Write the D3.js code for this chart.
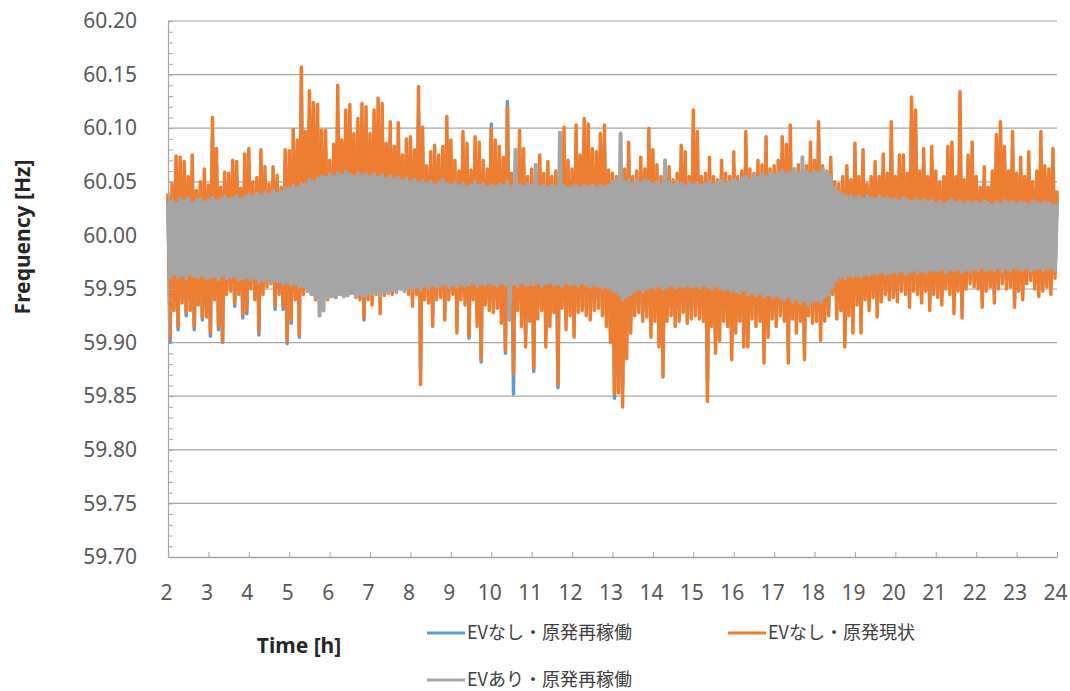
<!DOCTYPE html>
<html>
<head>
<meta charset="utf-8">
<script src="https://cdnjs.cloudflare.com/ajax/libs/d3/7.8.5/d3.min.js"></script>
<style>
	body { margin: 0; background: #fff; }
	svg { display: block; }
	.tickLabel { font-family: "Noto Sans", "DejaVu Sans", sans-serif; font-size: 21px; fill: #595959; }
	.axisTitle { font-family: "Noto Sans", "DejaVu Sans", sans-serif; font-size: 21px; font-weight: bold; fill: #262626; }
	.legendText { font-family: "Noto Sans CJK JP", "Noto Sans", sans-serif; font-size: 18px; fill: #404040; }
</style>
</head>
<body>
<svg id="chart"></svg>
<script>
// time axis: samples every 0.05 h starting at 2 h, peaks (hi) on even samples, troughs (lo) on odd samples
var startHour = 2;
var sampleStep = 0.05;
var hourTicks = d3.range(2, 25, 1);
var freqTicks = [59.70, 59.75, 59.80, 59.85, 59.90, 59.95, 60.00, 60.05, 60.10, 60.15, 60.20];

var seriesNames = ["EVなし・原発再稼働", "EVなし・原発現状", "EVあり・原発再稼働"];
var seriesColors = ["#5b9bd5", "#ed7d31", "#a5a5a5"];
var seriesWidths = [3.5, 3.5, 4];

// deviation from 60 Hz in mHz
var blueHi = [
	35, 40, 60, 58, 55, 45, 60, 38, 42, 50,   40, 90, 65, 40, 50, 48, 58, 55, 40, 62,
	65, 45, 48, 65, 52, 42, 52, 48, 40, 65,   62, 80, 72, 130, 80, 110, 100, 100, 80, 80,
	58, 70, 115, 72, 95, 100, 78, 90, 100, 98,   78, 95, 105, 100, 70, 88, 68, 85, 62, 75,
	75, 65, 115, 82, 55, 65, 70, 62, 68, 90,   72, 58, 50, 80, 70, 52, 75, 70, 58, 52,
	104, 72, 68, 60, 125, 50, 55, 80, 66, 48,   52, 50, 62, 48, 56, 46, 50, 58, 82, 58,
	52, 85, 62, 90, 85, 66, 64, 78, 85, 50,   48, 46, 50, 52, 72, 46, 50, 60, 52, 82,
	66, 55, 46, 50, 53, 44, 48, 70, 64, 46,   96, 80, 46, 48, 60, 46, 44, 58, 48, 46,
	64, 46, 50, 80, 52, 48, 58, 55, 76, 52,   54, 58, 76, 70, 85, 52, 55, 50, 54, 72,
	58, 88, 54, 50, 60, 42, 40, 46, 54, 44,   70, 46, 66, 40, 46, 57, 46, 63, 48, 88,
	46, 62, 62, 48, 106, 96, 50, 67, 46, 69,   50, 42, 46, 69, 72, 46, 110, 43, 62, 72,
	46, 38, 53, 38, 50, 78, 88, 69, 50, 80,   48, 60, 46, 65, 42, 50, 80, 54, 52, 67,
	36
];
var blueLo = [
	-100, -60, -88, -55, -75, -60, -88, -58, -79, -66,   -94, -52, -88, -100, -48, -45, -66, -48, -77, -73,
	-44, -52, -93, -48, -42, -40, -69, -48, -69, -101,   -82, -52, -95, -48, -44, -48, -52, -54, -50, -52,
	-48, -50, -48, -46, -48, -46, -50, -52, -79, -52,   -56, -48, -64, -49, -46, -48, -44, -42, -46, -48,
	-58, -48, -125, -52, -55, -75, -52, -50, -70, -52,   -48, -80, -52, -57, -96, -52, -75, -118, -57, -62,
	-63, -60, -72, -110, -66, -148, -62, -75, -92, -70,   -127, -68, -62, -92, -75, -63, -142, -60, -78, -66,
	-84, -63, -62, -66, -70, -62, -60, -66, -75, -88,   -152, -130, -140, -100, -80, -66, -63, -70, -67, -84,
	-70, -92, -116, -70, -66, -75, -70, -63, -72, -68,   -66, -68, -70, -136, -75, -97, -86, -70, -75, -102,
	-80, -70, -92, -92, -68, -75, -70, -105, -84, -68,   -75, -66, -70, -105, -68, -80, -70, -102, -66, -72,
	-70, -86, -70, -66, -48, -68, -62, -92, -66, -80,   -57, -80, -52, -62, -51, -67, -54, -48, -52, -51,
	-54, -46, -48, -59, -46, -48, -55, -46, -62, -48,   -51, -57, -44, -48, -64, -46, -68, -44, -40, -42,
	-44, -59, -46, -42, -55, -44, -40, -44, -42, -59,   -46, -53, -40, -37, -44, -50, -46, -42, -48, -35
];

var orangeHi = [
	39, 48, 74, 73, 69, 55, 75, 42, 50, 62,   47, 110, 81, 45, 59, 58, 70, 69, 44, 76,
	81, 50, 54, 80, 64, 48, 64, 56, 45, 80,   79, 99, 89, 157, 97, 135, 124, 122, 98, 98,
	70, 85, 140, 89, 117, 122, 95, 109, 123, 120,   95, 117, 128, 123, 86, 106, 83, 105, 75, 90,
	92, 80, 139, 101, 65, 78, 84, 75, 83, 111,   89, 70, 60, 97, 86, 61, 92, 87, 70, 62,
	100, 89, 83, 73, 120, 58, 66, 98, 81, 55,   62, 60, 75, 58, 69, 55, 60, 70, 101, 70,
	62, 103, 75, 109, 104, 81, 78, 95, 103, 61,   58, 55, 60, 62, 87, 55, 60, 73, 62, 100,
	80, 66, 55, 60, 64, 52, 58, 84, 78, 55,   117, 97, 55, 58, 73, 55, 52, 70, 58, 55,
	78, 55, 60, 97, 62, 58, 70, 66, 92, 62,   65, 70, 92, 85, 103, 62, 66, 60, 65, 87,
	70, 106, 65, 60, 73, 50, 48, 55, 65, 52,   86, 55, 80, 48, 55, 69, 55, 76, 58, 106,
	55, 75, 75, 58, 129, 117, 60, 81, 55, 83,   60, 50, 55, 83, 87, 55, 134, 52, 75, 87,
	55, 45, 64, 45, 60, 94, 106, 83, 60, 97,   58, 73, 55, 78, 50, 60, 97, 65, 62, 81,
	42
];
var orangeLo = [
	-96, -70, -85, -63, -72, -70, -85, -65, -76, -76,   -91, -60, -85, -99, -55, -52, -63, -55, -74, -70,
	-50, -60, -90, -55, -48, -45, -66, -55, -66, -99,   -79, -60, -93, -55, -50, -55, -60, -62, -58, -60,
	-55, -58, -55, -52, -55, -52, -58, -60, -76, -60,   -65, -55, -73, -56, -52, -55, -50, -48, -52, -55,
	-66, -55, -139, -60, -63, -85, -60, -58, -79, -60,   -55, -91, -60, -65, -94, -60, -85, -116, -65, -70,
	-72, -68, -82, -107, -75, -129, -70, -85, -104, -80,   -124, -78, -70, -104, -85, -72, -139, -68, -88, -75,
	-95, -72, -70, -75, -79, -70, -68, -75, -85, -100,   -148, -147, -160, -115, -91, -75, -72, -80, -76, -95,
	-80, -104, -132, -80, -75, -85, -80, -72, -82, -78,   -75, -78, -80, -155, -85, -110, -98, -80, -85, -116,
	-91, -80, -104, -104, -78, -85, -80, -119, -95, -78,   -85, -75, -80, -119, -78, -91, -80, -116, -75, -82,
	-80, -98, -80, -75, -55, -78, -70, -104, -75, -91,   -65, -91, -60, -70, -58, -76, -62, -55, -60, -58,
	-62, -52, -55, -67, -52, -55, -63, -52, -70, -55,   -58, -65, -50, -55, -73, -52, -77, -50, -45, -48,
	-50, -67, -52, -48, -63, -50, -45, -50, -48, -67,   -52, -60, -45, -42, -50, -57, -52, -48, -55, -40
];

var grayHi = [
	31, 33, 30, 34, 32, 35, 30, 33, 34, 31,   33, 35, 32, 34, 36, 33, 35, 37, 34, 36,
	38, 36, 39, 37, 40, 38, 42, 39, 41, 44,   43, 46, 44, 48, 47, 52, 50, 53, 55, 54,
	57, 55, 58, 56, 60, 57, 55, 58, 56, 57,   55, 57, 54, 56, 53, 55, 52, 54, 51, 53,
	50, 52, 49, 51, 48, 50, 47, 49, 52, 48,   47, 49, 46, 48, 45, 47, 50, 46, 48, 45,
	47, 45, 48, 46, 50, 45, 80, 47, 45, 48,   46, 66, 45, 47, 44, 46, 45, 96, 46, 44,
	45, 47, 44, 46, 45, 47, 44, 46, 45, 47,   50, 52, 95, 50, 52, 48, 51, 49, 52, 50,
	48, 50, 47, 70, 49, 47, 50, 48, 46, 49,   47, 49, 46, 48, 50, 47, 49, 51, 48, 50,
	52, 50, 53, 55, 52, 56, 54, 57, 55, 58,   56, 58, 60, 57, 59, 62, 58, 73, 60, 57,
	60, 58, 62, 59, 55, 45, 40, 38, 36, 37,   35, 36, 34, 37, 35, 33, 36, 34, 35, 33,
	34, 32, 35, 33, 31, 34, 32, 33, 31, 32,   30, 32, 29, 31, 33, 30, 32, 29, 31, 30,
	31, 29, 32, 30, 28, 31, 29, 32, 30, 31,   29, 31, 30, 28, 32, 30, 29, 31, 30, 28,
	30
];
var grayLo = [
	-38, -36, -39, -37, -40, -36, -38, -39, -37, -40,   -39, -38, -41, -37, -40, -39, -38, -41, -40, -39,
	-41, -40, -43, -42, -41, -44, -42, -43, -45, -44,   -46, -45, -48, -47, -52, -55, -58, -75, -70, -58,
	-57, -58, -55, -57, -56, -54, -57, -55, -56, -54,   -55, -53, -56, -52, -54, -51, -53, -50, -52, -49,
	-50, -48, -51, -47, -49, -46, -48, -47, -45, -48,   -46, -48, -45, -47, -46, -44, -47, -45, -46, -44,
	-45, -47, -44, -46, -79, -45, -47, -44, -46, -45,   -46, -44, -47, -45, -44, -46, -45, -47, -44, -46,
	-45, -47, -44, -46, -48, -46, -47, -49, -48, -50,   -52, -55, -60, -57, -55, -52, -50, -52, -50, -48,
	-49, -47, -50, -48, -46, -49, -47, -48, -46, -48,   -47, -49, -46, -48, -50, -47, -49, -51, -50, -52,
	-52, -54, -51, -55, -53, -56, -54, -57, -55, -58,   -56, -58, -60, -57, -62, -59, -63, -60, -65, -61,
	-60, -62, -58, -55, -48, -42, -38, -40, -37, -38,   -37, -38, -36, -37, -35, -36, -34, -36, -35, -34,
	-35, -33, -36, -34, -32, -35, -33, -34, -32, -33,   -33, -31, -34, -32, -33, -31, -34, -32, -33, -31,
	-32, -30, -33, -31, -32, -30, -33, -31, -32, -30,   -31, -32, -30, -33, -31, -30, -32, -31, -30, -32
];

function buildSeries(hi, lo)
{
	var pts = [];
	hi.forEach(function(h, i)
	{
		pts.push({t: startHour + 2 * i * sampleStep, f: 60 + h / 1000});
		if (i < lo.length)
			pts.push({t: startHour + (2 * i + 1) * sampleStep, f: 60 + lo[i] / 1000});
	});
	return pts;
}

function drawChart()
{
	var width = 1070;
	var height = 691;
	var left = 168, right = 1057, top = 21, bottom = 557;

	var svg = d3.select("#chart")
		.attr("width", width)
		.attr("height", height);

	svg.append("rect")
		.attr("width", width)
		.attr("height", height)
		.attr("fill", "#fff");

	var x = d3.scaleLinear().domain([2, 24]).range([left, right]);
	var y = d3.scaleLinear().domain([59.70, 60.20]).range([bottom, top]);

	// gridlines
	svg.append("g")
		.selectAll("line")
		.data(freqTicks.slice(1))
		.enter()
		.append("line")
		.attr("x1", left)
		.attr("x2", right)
		.attr("y1", function(d) { return y(d); })
		.attr("y2", function(d) { return y(d); })
		.attr("stroke", "#a6a6a6")
		.attr("stroke-width", 1.2);

	var series = [buildSeries(blueHi, blueLo), buildSeries(orangeHi, orangeLo), buildSeries(grayHi, grayLo)];

	var line = d3.line()
		.x(function(d) { return x(d.t); })
		.y(function(d) { return y(d.f); });

	svg.append("g")
		.selectAll("path")
		.data(series)
		.enter()
		.append("path")
		.attr("d", line)
		.attr("fill", "none")
		.attr("stroke", function(d, i) { return seriesColors[i]; })
		.attr("stroke-width", function(d, i) { return seriesWidths[i]; })
		.attr("stroke-linejoin", "round");

	// y axis: labels, minor ticks inside
	var yAxis = d3.axisLeft(y)
		.tickValues(freqTicks)
		.tickSize(0)
		.tickPadding(31)
		.tickFormat(d3.format(".2f"));
	var gy = svg.append("g")
		.attr("transform", "translate(" + left + ",0)")
		.call(yAxis);
	gy.select(".domain").attr("stroke", "#a6a6a6").attr("stroke-width", 1.2);
	gy.selectAll("text").attr("class", "tickLabel").attr("font-size", null).attr("font-family", null).attr("fill", null);

	var yMinor = d3.axisLeft(y)
		.tickValues(d3.range(0, 51).map(function(i) { return 59.70 + i * 0.01; }))
		.tickSizeInner(-5)
		.tickSizeOuter(0)
		.tickFormat("");
	var gm = svg.append("g")
		.attr("transform", "translate(" + left + ",0)")
		.call(yMinor);
	gm.select(".domain").remove();
	gm.selectAll("line").attr("stroke", "#a6a6a6");

	// x axis, ticks inside
	var xAxis = d3.axisBottom(x)
		.tickValues(hourTicks)
		.tickSizeInner(-5)
		.tickSizeOuter(0)
		.tickPadding(28)
		.tickFormat(d3.format("d"));
	var gx = svg.append("g")
		.attr("transform", "translate(0," + bottom + ")")
		.call(xAxis);
	gx.select(".domain").attr("stroke", "#a6a6a6").attr("stroke-width", 1.5);
	gx.selectAll("line").attr("stroke", "#a6a6a6");
	gx.selectAll("text").attr("class", "tickLabel").attr("font-size", null).attr("font-family", null).attr("fill", null)
		.attr("dx", -2);

	svg.append("text")
		.attr("class", "axisTitle")
		.attr("x", 299)
		.attr("y", 653)
		.attr("text-anchor", "middle")
		.text("Time [h]");

	svg.append("text")
		.attr("class", "axisTitle")
		.attr("transform", "translate(30,237) rotate(-90)")
		.attr("text-anchor", "middle")
		.text("Frequency [Hz]");

	// legend
	var legendPos = [[427, 633], [728, 633], [427, 680]];
	var legend = svg.append("g")
		.selectAll("g")
		.data(seriesNames)
		.enter()
		.append("g")
		.attr("transform", function(d, i) { return "translate(" + legendPos[i][0] + "," + legendPos[i][1] + ")"; });

	legend.append("line")
		.attr("x1", 0)
		.attr("x2", 38)
		.attr("stroke", function(d, i) { return seriesColors[i]; })
		.attr("stroke-width", 3);

	legend.append("text")
		.attr("class", "legendText")
		.attr("x", 40)
		.attr("dy", "0.35em")
		.text(function(d) { return d; });
}

drawChart();
</script>
</body>
</html>
